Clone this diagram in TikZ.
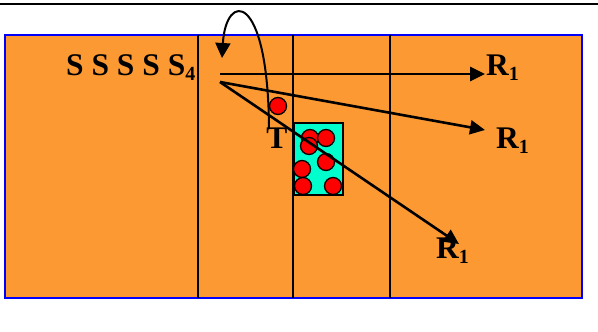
\documentclass[tikz,border=0pt]{standalone}
\usepackage{fontspec}
\setmainfont{Liberation Serif}
\usetikzlibrary{arrows.meta}
\definecolor{bgorange}{RGB}{253,153,51}
\definecolor{boxcyan}{RGB}{0,255,204}
\newcommand\subidx[1]{\raisebox{-5pt}{\fontsize{20}{20}\selectfont #1}}
\begin{document}
\begin{tikzpicture}[x=1pt,y=-1pt,
  lbl/.style={font=\fontsize{31.5}{34}\selectfont\bfseries, inner sep=0pt},
  ball/.style={circle, draw=black, fill=red, line width=1.3pt, minimum size=17pt, inner sep=0pt},
  ray/.style={line width=2.6pt, -{Triangle[length=15pt,width=14pt]}},
  gridline/.style={line width=1.6pt},
  cyanbox/.style={draw=black, fill=boxcyan, line width=1.5pt, minimum width=49pt, minimum height=72pt, inner sep=0pt}]
\useasboundingbox (0,0) rectangle (598,332);
\draw[line width=2.6pt] (0,4) -- (598,4);
\draw[fill=bgorange, draw=blue, line width=2pt] (5,35) rectangle (582,298);
\foreach \xx in {198,293,390} {\draw[gridline] (\xx,35) -- (\xx,298);}
\node[cyanbox, anchor=north west] (box) at (293,122) {};
\node[ball] (c0) at (278,106) {};
\node[ball] (c1) at (310,138) {};
\node[ball] (c2) at (326,138) {};
\node[ball] (c3) at (309,146) {};
\node[ball] (c4) at (326,162) {};
\node[ball] (c5) at (302,169) {};
\node[ball] (c6) at (303,186) {};
\node[ball] (c7) at (333,186) {};
\coordinate (src1) at (220,74);
\coordinate (src2) at (220,82);
\coordinate (tip1) at (485,74);
\coordinate (tip2) at (485,130);
\coordinate (tip3) at (459,244);
\coordinate (cstart) at (269,128);
\coordinate (ctip) at (222,58);
\draw[ray] (src1) -- (tip1);
\draw[ray] (src2) -- (tip2);
\draw[ray] (src2) -- (tip3);
\draw[line width=2pt, -{Triangle[length=15pt,width=15pt]}] (cstart) .. controls (268,-9) and (226,-9) .. (ctip);
\node[lbl, anchor=base west] (s) at (66,75) {S S S S S\subidx{4}};
\node[lbl, anchor=base] (t) at (277,148) {T};
\node[lbl, anchor=base west] (r1) at (486,75) {R\subidx{1}};
\node[lbl, anchor=base west] (r2) at (496,148) {R\subidx{1}};
\node[lbl, anchor=base west] (r3) at (436,258) {R\subidx{1}};
\end{tikzpicture}
\end{document}
